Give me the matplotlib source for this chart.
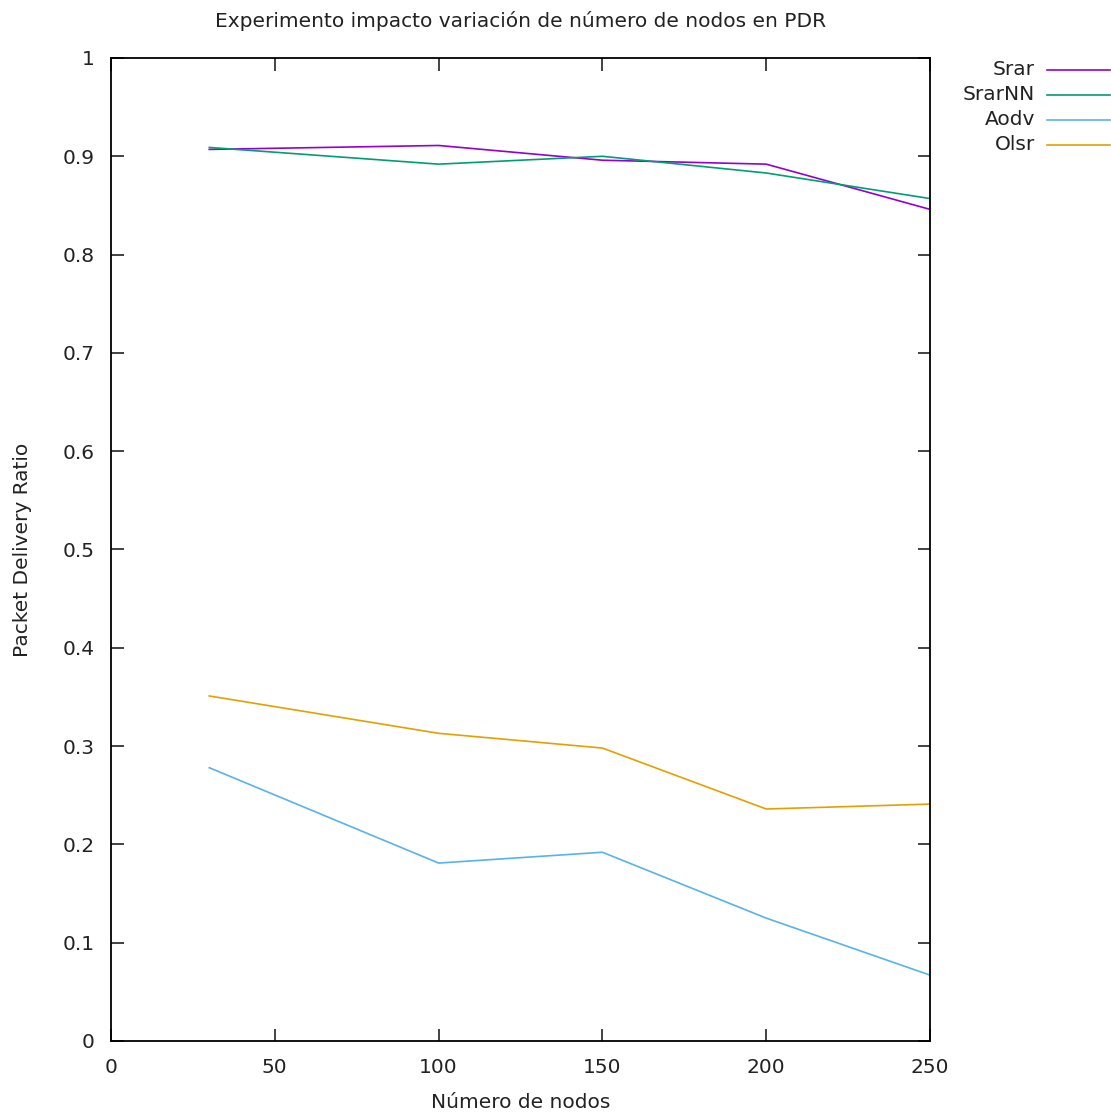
import matplotlib.pyplot as plt
from matplotlib.lines import Line2D

# datos
nodos = [30, 100, 150, 200, 250]
srar = [0.907, 0.911, 0.896, 0.892, 0.846]
srar_nn = [0.909, 0.892, 0.900, 0.883, 0.857]
aodv = [0.278, 0.181, 0.192, 0.125, 0.067]
olsr = [0.351, 0.313, 0.298, 0.236, 0.241]

nombres = ["Srar", "SrarNN", "Aodv", "Olsr"]
colores = ["#9400D3", "#009E73", "#56B4E9", "#E69F00"]
xticks = [0, 50, 100, 150, 200, 250]
yticks = [0, 0.1, 0.2, 0.3, 0.4, 0.5, 0.6, 0.7, 0.8, 0.9, 1]

plt.rcParams['font.family'] = ['DejaVu Sans']
fs = 14.5

fig = plt.figure(figsize=(11.11, 11.13), dpi=100)
ax = fig.add_axes([0.0999, 0.0647, 0.7372, 0.8832])

for serie, nombre, c in zip([srar, srar_nn, aodv, olsr], nombres, colores):
    ax.plot(nodos, serie, color=c, lw=1.2, label=nombre)

ax.set_xlim(0, 250)
ax.set_ylim(0, 1)
ax.set_xticks(xticks)
ax.set_yticks(yticks)
ax.set_yticklabels(["0", "0.1", "0.2", "0.3", "0.4", "0.5", "0.6", "0.7", "0.8", "0.9", "1"])
ax.tick_params(direction='in', length=9, width=1.2, top=True, right=True,
               labelsize=fs, colors='#222222')
ax.tick_params(axis='y', pad=12)
ax.tick_params(axis='x', pad=12)
for s in ax.spines.values():
    s.set_linewidth(1.3)

ax.set_title("Experimento impacto variación de número de nodos en PDR", fontsize=fs, pad=22, color='#222222')
ax.set_xlabel("Número de nodos", fontsize=fs, labelpad=12, color='#222222')
ax.set_ylabel("Packet Delivery Ratio", fontsize=fs, labelpad=22, color='#222222')

# leyenda estilo gnuplot (texto a la derecha alineado, linea despues)
for i, (nombre, c) in enumerate(zip(nombres, colores)):
    y = 0.988 - i * 0.0255
    ax.text(1.128, y, nombre, transform=ax.transAxes, ha='right', va='center',
            fontsize=fs, color='#222222')
    ax.add_line(Line2D([1.143, 1.22], [y, y], transform=ax.transAxes, color=c,
                       lw=1.2, clip_on=False))

fig.savefig("out.png", dpi=100)
